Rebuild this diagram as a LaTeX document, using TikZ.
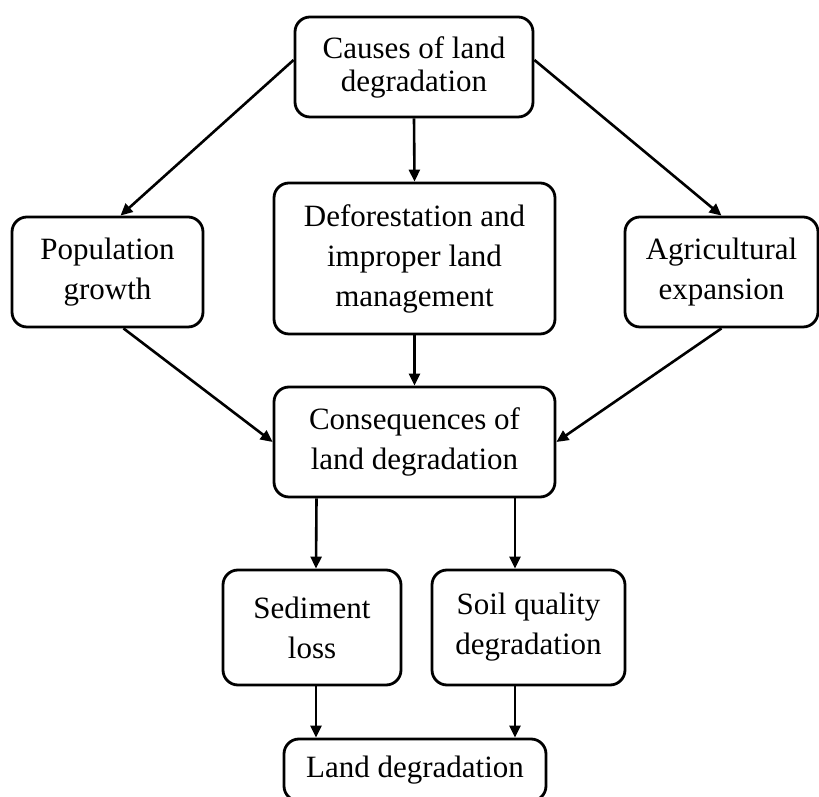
\documentclass[tikz,border=0pt]{standalone}
\usepackage{fontspec}
\setmainfont{Liberation Serif}
\usetikzlibrary{arrows.meta}
\tikzset{
  box/.style={draw, line width=2.8pt, rounded corners=15pt, align=center, inner sep=0pt, font=\fontsize{31}{40}\selectfont},
  link/.style={line width=2.6pt, -{Triangle[length=12pt,width=11pt]}}
}
\begin{document}
\begin{tikzpicture}[x=1pt,y=1pt]
  \useasboundingbox(0,0)rectangle(819,797);
  \node[box, minimum width=238, minimum height=100, font=\fontsize{31}{33}\selectfont](causes) at (414,730){Causes of land\\degradation};
  \node[box, minimum width=191, minimum height=110](pop) at (107.5,525){Population\\growth};
  \node[box, minimum width=281, minimum height=151](defo) at (414.5,538.5){Deforestation and\\improper land\\management};
  \node[box, minimum width=193, minimum height=110](agri) at (721.5,525){Agricultural\\expansion};
  \node[box, minimum width=281, minimum height=110](cons) at (414.5,355){Consequences of\\land degradation};
  \node[box, minimum width=178, minimum height=115](sed) at (312,169.5){Sediment\\loss};
  \node[box, minimum width=193, minimum height=115](soil) at (528.5,169.5){Soil quality\\degradation};
  \node[box, minimum width=262, minimum height=62](land) at (415,27){Land degradation};
  \draw[link]([yshift=7pt]causes.west)--([xshift=13pt]pop.north);
  \draw[link](causes.south)--(defo.north);
  \draw[link]([yshift=7pt]causes.east)--(agri.north);
  \draw[link]([xshift=16pt]pop.south)--(cons.west);
  \draw[link](defo.south)--(cons.north);
  \draw[link](agri.south)--(cons.east);
  \draw[link]([xshift=-98pt]cons.south)--([xshift=4pt]sed.north);
  \draw[link]([xshift=100.5pt]cons.south)--([xshift=-13.5pt]soil.north);
  \draw[link]([xshift=4pt]sed.south)--([xshift=-99pt]land.north);
  \draw[link]([xshift=-13.5pt]soil.south)--([xshift=100pt]land.north);
\end{tikzpicture}
\end{document}
